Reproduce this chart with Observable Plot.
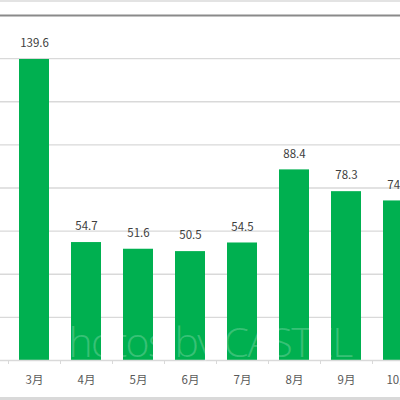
<!DOCTYPE html>
<html>
<head>
<meta charset="utf-8">
<script src="https://cdn.jsdelivr.net/npm/d3@7"></script>
<script src="https://cdn.jsdelivr.net/npm/@observablehq/plot@0.6"></script>
<style>
  html, body { margin: 0; padding: 0; overflow: hidden; background: #fff; }
  #wrap { position: relative; width: 400px; height: 400px; overflow: hidden; }
  #chart svg { max-width: none !important; }
  #topline { position: absolute; left: 0; top: 0; width: 400px; height: 2px; background: #e3e3e3; }
  #bottomline { position: absolute; left: 0; top: 397px; width: 400px; height: 3px; background: #d9d9d9; }
  #wm { position: absolute; left: 46px; top: 321px; font-family: "Open Sans", sans-serif; font-weight: 300;
        font-size: 41px; line-height: 41px; height: 41px; letter-spacing: -1.6px; color: rgba(255,255,255,0.22); white-space: nowrap; pointer-events: none; }
</style>
</head>
<body>
<div id="wrap">
  <div id="chart"></div>
  <div id="topline"></div>
  <div id="bottomline"></div>
  <div id="wm">Photos by CASTEL</div>
</div>
<script>
const months = ["3月", "4月", "5月", "6月", "7月", "8月", "9月", "10月"];
const values = [139.6, 54.7, 51.6, 50.5, 54.5, 88.4, 78.3, 74.0];
const gridTicks = [20, 40, 60, 80, 100, 120, 140];
const topTick = [160];
const baseTick = [0];

const data = months.map((m, i) => ({month: m, value: values[i]}));
const font = '"Noto Sans CJK JP", "Open Sans", sans-serif';

const chart = Plot.plot({
  width: 440,
  height: 400,
  marginTop: 15,
  marginBottom: 40,
  marginLeft: 0,
  marginRight: 0,
  style: {background: "transparent", fontFamily: font, maxWidth: "none"},
  x: {domain: months, range: [8, 424], paddingInner: 0.423, paddingOuter: 0.2115, axis: null},
  y: {domain: [0, 160], axis: null},
  marks: [
    Plot.ruleY(gridTicks, {stroke: "#d9d9d9", strokeWidth: 1.3}),
    Plot.ruleY(topTick, {stroke: "#8a8a8a", strokeWidth: 2}),
    Plot.barY(data, {x: "month", y: "value", fill: "#00b050"}),
    Plot.ruleY(baseTick, {stroke: "#d9d9d9", strokeWidth: 1.3}),
    Plot.ruleX(months, {x: d => d, y1: 0, y2: 0, dx: -26, insetBottom: -4, stroke: "#d9d9d9"}),
    Plot.text(data, {x: "month", y: "value", text: d => d.value.toFixed(1), dy: -16,
      fill: "#404040", fontSize: 11.5, fontFamily: font}),
    Plot.text(months, {x: d => d, y: () => 0, text: d => d, dy: 20,
      fill: "#595959", fontSize: 11.5, fontFamily: font})
  ]
});
document.getElementById("chart").appendChild(chart);
</script>
</body>
</html>
